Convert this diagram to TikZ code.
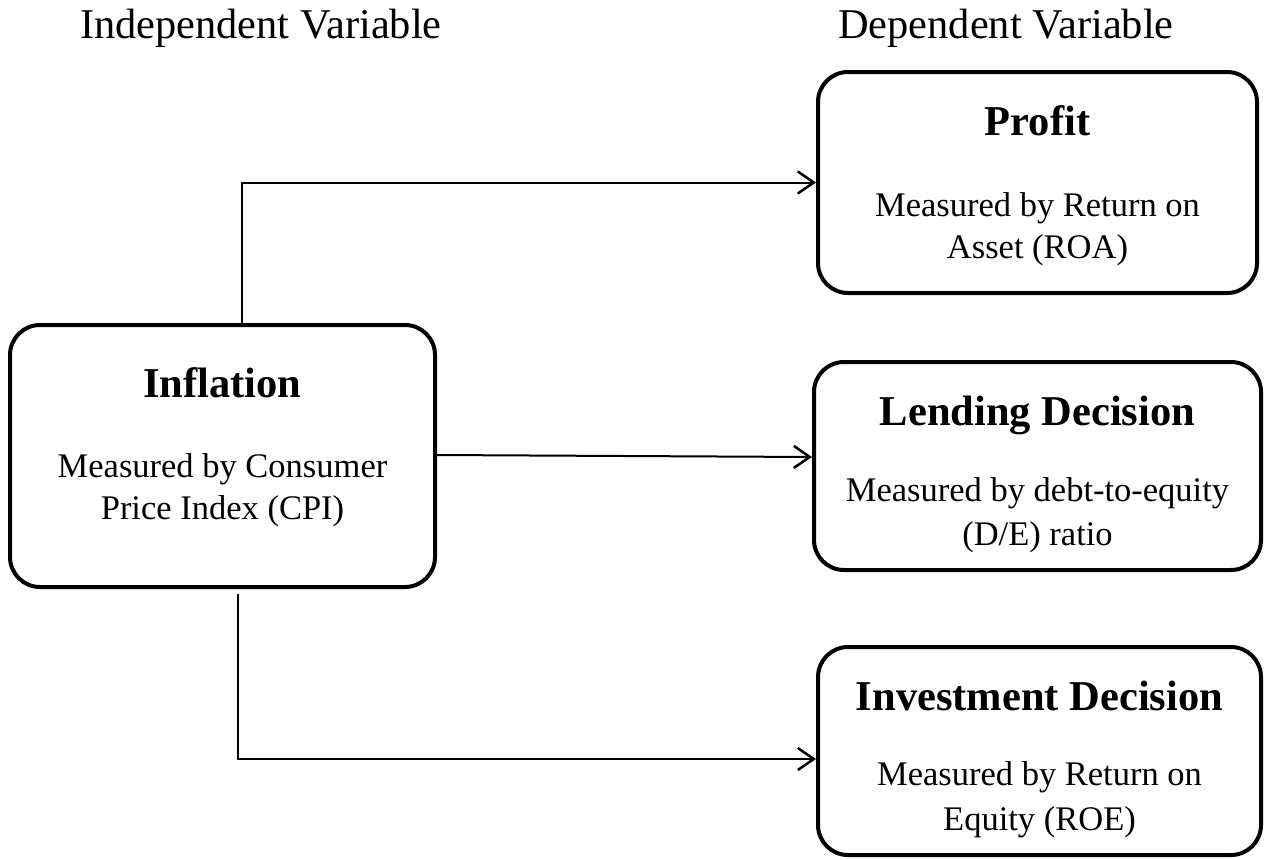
\documentclass[tikz,border=0pt]{standalone}
\usepackage{fontspec}
\setmainfont{Liberation Serif}
\usetikzlibrary{arrows.meta}
\begin{document}
\begin{tikzpicture}[x=1pt,y=-1pt,
  box/.style={draw, line width=4pt, rounded corners=30pt, inner sep=0pt},
  ttl/.style={anchor=base, font=\fontsize{42.5}{50}\selectfont\bfseries, inner sep=0pt},
  body/.style={anchor=base, font=\fontsize{34.5}{45}\selectfont, inner sep=0pt},
  hdr/.style={anchor=base west, font=\fontsize{42.4}{50}\selectfont, inner sep=0pt},
  conn/.style={line width=2pt, -{Straight Barb[length=16pt,width=22pt,line width=2.5pt]}},
]
\useasboundingbox (0,0) rectangle (1265,859);

% headers
\node[hdr] (hind) at (80,39) {Independent Variable};
\node[hdr] (hdep) at (838,39) {Dependent Variable};

% boxes
\node[box, minimum width=425pt, minimum height=262pt] (infl) at (222.5,456) {};
\node[box, minimum width=439pt, minimum height=221pt] (prof) at (1037.5,182.5) {};
\node[box, minimum width=447pt, minimum height=208pt] (lend) at (1037.5,466) {};
\node[box, minimum width=443pt, minimum height=208pt] (inv) at (1039.5,751) {};

% texts
\node[ttl]  (t1)  at (222.5,397) {Inflation};
\node[body] (t1a) at (222.5,477) {Measured by Consumer};
\node[body] (t1b) at (222.5,519) {Price Index (CPI)};

\node[ttl]  (t2)  at (1037.5,135) {Profit};
\node[body] (t2a) at (1037.5,216) {Measured by Return on};
\node[body] (t2b) at (1037.5,258) {Asset (ROA)};

\node[ttl]  (t3)  at (1037.5,425) {Lending Decision};
\node[body] (t3a) at (1037.5,501) {Measured by debt-to-equity};
\node[body] (t3b) at (1037.5,545) {(D/E) ratio};

\node[ttl]  (t4)  at (1039.5,710) {Investment Decision};
\node[body] (t4a) at (1039.5,785) {Measured by Return on};
\node[body] (t4b) at (1039.5,830) {Equity (ROE)};

% connectors
\draw[conn] ([xshift=19.5pt]infl.north) |- (prof.west);
\draw[conn] ([yshift=1pt]infl.east) -- ([yshift=9pt]lend.west);
\draw[conn] ([xshift=15.5pt,yshift=-5pt]infl.south) |- ([yshift=-8pt]inv.west);
\end{tikzpicture}
\end{document}
